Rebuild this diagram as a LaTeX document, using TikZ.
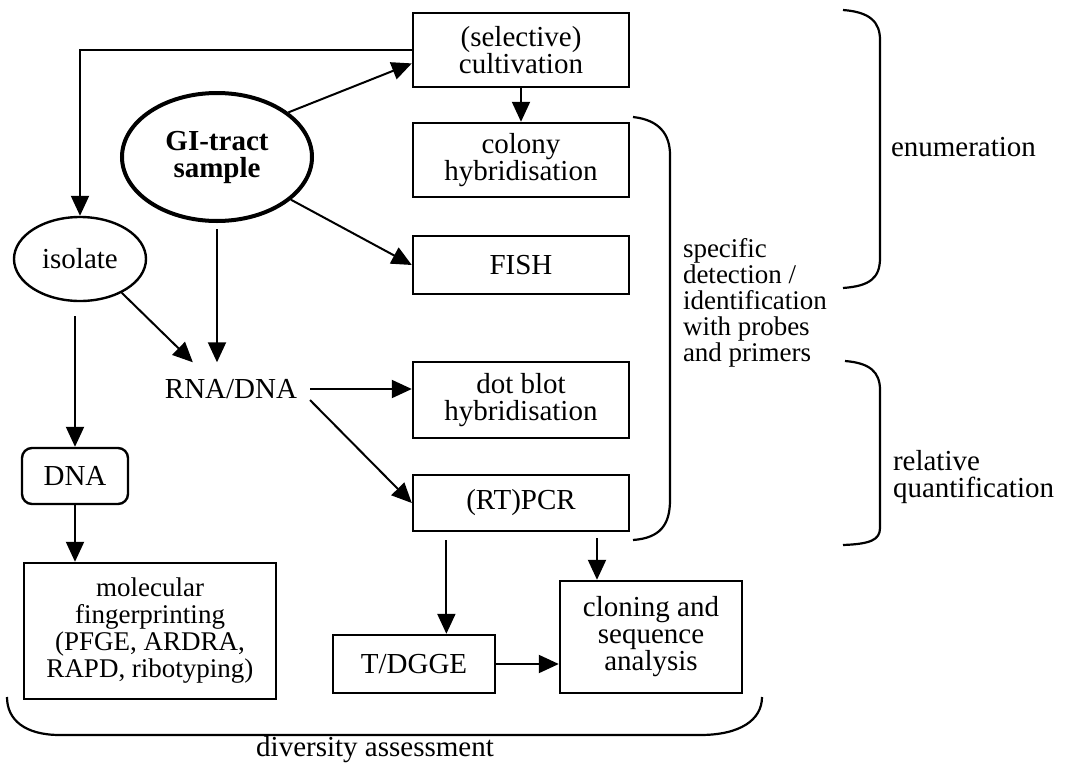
\documentclass[tikz,border=0pt]{standalone}
\usepackage{fontspec}
\setmainfont{Liberation Serif}
\usetikzlibrary{positioning}
\usetikzlibrary{arrows.meta,shapes.geometric,calc}
\tikzset{
    every picture/.style={>={Triangle[length=10pt,width=9pt]},line width=1pt},
}
\begin{document}
\begin{tikzpicture}[x=0.5pt,y=-0.5pt,
  box/.style={draw,line width=1.2pt,align=center,inner sep=2pt,font=\fontsize{14.5}{13.5}\selectfont},
  blob/.style={draw,ellipse,line width=1.2pt,align=center,inner sep=0pt,font=\fontsize{14.5}{13.5}\selectfont},
  brace/.style={line width=1.1pt},
  lab/.style={align=left,inner sep=0pt,font=\fontsize{14.5}{13.5}\selectfont}]
\useasboundingbox (0,0) rectangle (1066,766);

\node[box,minimum width=108pt,minimum height=37pt] (cult) at (521,50) {(selective)\\cultivation};
\node[box,minimum width=108pt,minimum height=37pt] (colony) at (521,160) {colony\\hybridisation};
\node[box,minimum width=108pt,minimum height=29pt] (fish) at (521,265) {FISH};
\node[box,minimum width=108pt,minimum height=38pt] (dotblot) at (521,400) {dot blot\\hybridisation};
\node[box,minimum width=108pt,minimum height=28pt] (pcr) at (521,503) {(RT)PCR};
\node[box,minimum width=81pt,minimum height=29pt] (tdgge) at (414,664) {T/DGGE};
\node[box,minimum width=91pt,minimum height=56pt] (cloning) at (651,637) {cloning and\\sequence\\analysis};
\node[box,minimum width=126pt,minimum height=68pt,font=\fontsize{13.5}{13.5}\selectfont] (finger) at (150,631) {molecular\\fingerprinting\\(PFGE, ARDRA,\\RAPD, ribotyping)};
\node[box,rounded corners=5pt,minimum width=53pt,minimum height=28pt] (dna) at (75,476) {DNA};
\node[blob,minimum width=66pt,minimum height=42pt] (isolate) at (80,259) {isolate};
\node[blob,line width=2pt,minimum width=95pt,minimum height=64pt,font=\fontsize{14.5}{13.5}\selectfont\bfseries] (gi) at (217,157) {GI-tract\\sample};
\node[inner xsep=6pt,inner ysep=8pt,font=\fontsize{14.5}{13.5}\selectfont] (rna) at (231,389) {RNA/DNA};
\coordinate (det) at (597,538);

\draw[->] (cult.west) -| (isolate.north);
\path (gi.32) edge[->] (cult.187)
(gi.330) edge[->] (fish.west)
(isolate.321) edge[->] (rna.145)
(rna.-8) edge[->] (pcr.west)
(tdgge.east) edge[->] (cloning.west |- tdgge.east)
(cult.south) edge[->] (colony.north)
;
\draw[->,shorten <=3pt] (gi.south) -- (gi.south |- rna.north);
\draw[->] (rna.east) -- (rna.east -| dotblot.west);
\draw[->,shorten <=4pt] (pcr.south -| tdgge.43) -- (tdgge.43);
\draw[->] (det) -- (det |- cloning.north);
\draw[->,shorten <=7pt] (dna.north |- isolate.south) -- (dna.north);
\draw[->] (dna.south) -- (dna.south |- finger.north);

% brackets
\draw[brace] (843,10) .. controls (870,12) and (880,22) .. (880,40) -- (880,258) .. controls (880,278) and (870,286) .. (843,288);
\draw[brace] (633,117) .. controls (660,120) and (670,135) .. (670,155) -- (670,500) .. controls (670,525) and (660,538) .. (633,540);
\draw[brace] (845,361) .. controls (870,363) and (880,372) .. (880,390) -- (880,528) .. controls (880,540) and (870,544) .. (843,545);
\draw[brace] (7,697) .. controls (7,720) and (25,735) .. (60,735) -- (700,735) .. controls (740,735) and (762,720) .. (762,697);

\node[lab,anchor=west] (enum) at (890,147) {enumeration};
\node[lab,anchor=west,font=\fontsize{13.5}{13}\selectfont] (spec) at (682,303) {specific\\detection /\\identification\\with probes\\and primers};
\node[lab,anchor=west] (relq) at (892,477) {relative\\quantification};
\node[lab] (div) at (375,750) {diversity assessment};
\end{tikzpicture}
\end{document}
